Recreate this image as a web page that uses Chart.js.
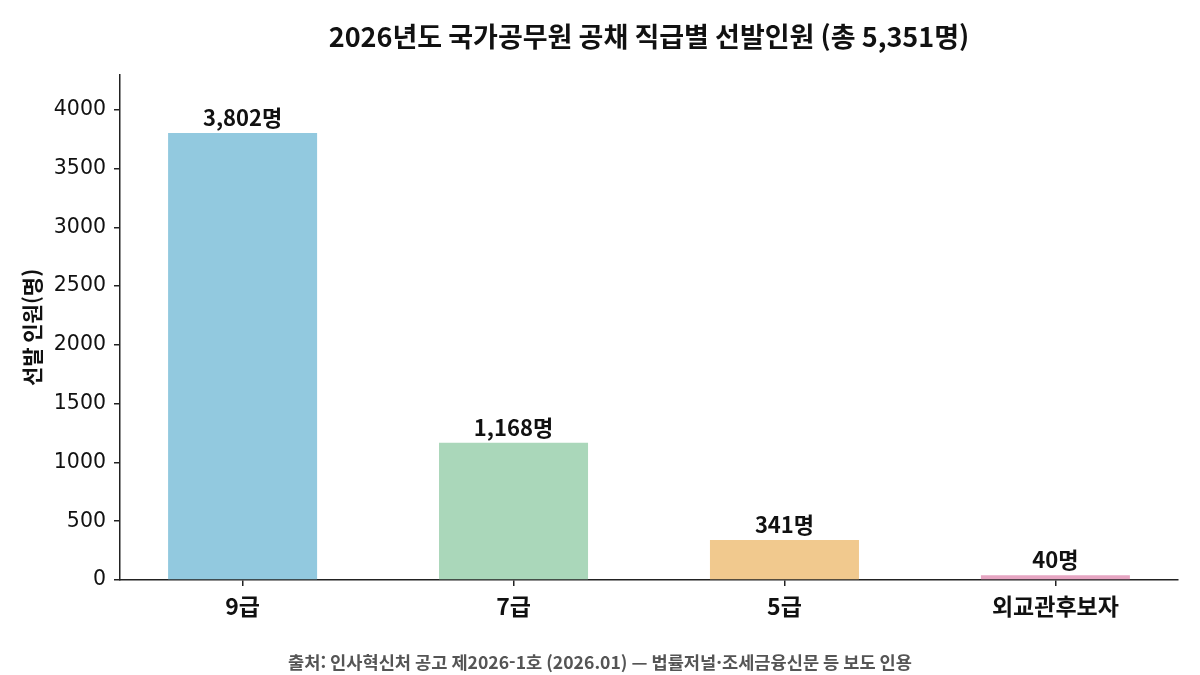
<!DOCTYPE html>
<html lang="ko">
<head>
<meta charset="utf-8">
<title>2026년도 국가공무원 공채 직급별 선발인원</title>
<script src="https://cdn.jsdelivr.net/npm/chart.js@4/dist/chart.umd.min.js"></script>
<style>
  html, body { margin: 0; padding: 0; background: #fff; }
  #wrap { width: 1200px; height: 675px; }
</style>
</head>
<body>
<div id="wrap"><canvas id="gradeChart" width="1200" height="675"></canvas></div>
<script>
const categories = ['9급', '7급', '5급', '외교관후보자'];
const headcounts = [3802, 1168, 341, 40];
const barColors = ['#92c9df', '#aad7ba', '#f1c98e', '#e6a5c2'];
const yTicks = [0, 500, 1000, 1500, 2000, 2500, 3000, 3500, 4000];

const titleText = '2026년도 국가공무원 공채 직급별 선발인원 (총 5,351명)';
const sourceText = '출처: 인사혁신처 공고 제2026-1호 (2026.01) — 법률저널·조세금융신문 등 보도 인용';

const KR = "'Noto Sans CJK KR', 'Noto Sans', sans-serif";
const axisColor = '#222';

// value labels above each bar ("3,802명")
const barLabels = {
  id: 'barLabels',
  afterDatasetsDraw(chart) {
    const ctx = chart.ctx;
    const meta = chart.getDatasetMeta(0);
    ctx.save();
    ctx.font = `bold 22px ${KR}`;
    ctx.fillStyle = '#111';
    ctx.textAlign = 'center';
    ctx.textBaseline = 'alphabetic';
    meta.data.forEach((bar, i) => {
      ctx.fillText(headcounts[i].toLocaleString('en-US') + '명', bar.x, bar.y - 7);
    });
    ctx.restore();
  }
};

// source line, centred on the whole figure rather than the plot
const sourceNote = {
  id: 'sourceNote',
  afterDraw(chart) {
    const ctx = chart.ctx;
    ctx.save();
    ctx.font = `bold 17.6px ${KR}`;
    ctx.fillStyle = '#555';
    ctx.textAlign = 'center';
    ctx.textBaseline = 'middle';
    ctx.fillText(sourceText, chart.width / 2, 662);
    ctx.restore();
  }
};

const ctx = document.getElementById('gradeChart').getContext('2d');
new Chart(ctx, {
  type: 'bar',
  data: {
    datasets: [{
      data: headcounts.map((v, i) => ({ x: i, y: v })),
      backgroundColor: barColors,
      borderWidth: 0,
      barPercentage: 0.55,
      categoryPercentage: 1.0,
    }]
  },
  options: {
    responsive: false,
    animation: false,
    devicePixelRatio: 1,
    layout: { padding: { left: 0, right: 22, top: 0, bottom: 43.8 } },
    plugins: {
      legend: { display: false },
      tooltip: { enabled: false },
      title: {
        display: true,
        text: titleText,
        fullSize: false,
        color: '#111',
        font: { family: KR, size: 27, weight: 'bold' },
        padding: { top: 21, bottom: 21.6 },
      },
    },
    scales: {
      x: {
        type: 'linear',
        offset: false,
        min: -0.4525,
        max: 3.4525,
        afterBuildTicks: (scale) => {
          scale.ticks = categories.map((_, i) => ({ value: i }));
        },
        afterFit: (scale) => { scale.height = 51.2; },
        ticks: {
          callback: (v) => categories[v],
          color: '#111',
          font: { family: KR, size: 23, weight: 'bold' },
          padding: 6,
          maxRotation: 0,
          autoSkip: false,
        },
        grid: { drawOnChartArea: false, drawTicks: true, tickLength: 6, color: axisColor, lineWidth: 1.5, offset: false },
        border: { display: true, color: axisColor, width: 1.5 },
      },
      y: {
        min: 0,
        max: 4296,
        afterBuildTicks: (scale) => {
          scale.ticks = yTicks.map((v) => ({ value: v }));
        },
        afterFit: (scale) => { scale.width = 120; },
        ticks: {
          callback: (v) => String(v),
          color: '#111',
          font: { family: "'DejaVu Sans', sans-serif", size: 20.5 },
          padding: 8,
        },
        grid: { drawOnChartArea: false, drawTicks: true, tickLength: 6, color: axisColor, lineWidth: 1.5 },
        border: { display: true, color: axisColor, width: 1.5 },
        title: {
          display: true,
          text: '선발 인원(명)',
          color: '#111',
          font: { family: KR, size: 21, weight: 'bold' },
          padding: { top: 19.4, bottom: 0 },
        },
      },
    },
  },
  plugins: [barLabels, sourceNote],
});
</script>
</body>
</html>
